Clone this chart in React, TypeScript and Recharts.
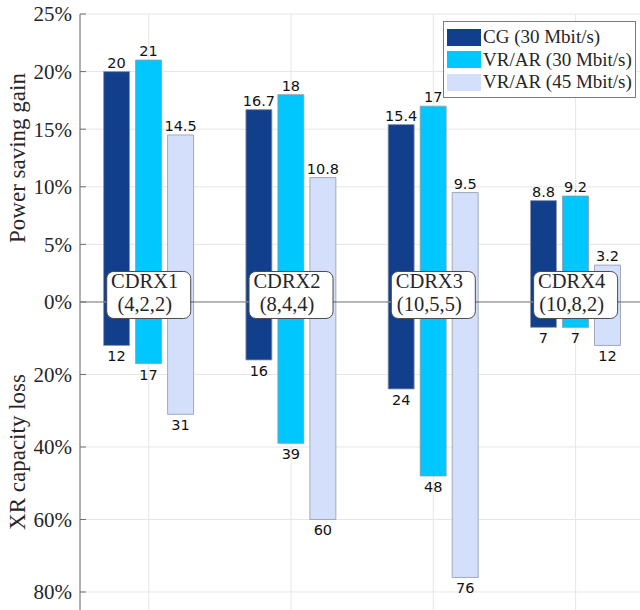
import { ComposedChart, Bar, XAxis, YAxis, CartesianGrid, ReferenceLine, ReferenceDot, LabelList, Legend } from 'recharts';

// CDRX configurations
const configs = ['CDRX1', 'CDRX2', 'CDRX3', 'CDRX4'];
const configParams = ['(4,2,2)', '(8,4,4)', '(10,5,5)', '(10,8,2)'];

// power saving gain (%)
const cgGain = [20, 16.7, 15.4, 8.8];
const vr30Gain = [21, 18, 17, 9.2];
const vr45Gain = [14.5, 10.8, 9.5, 3.2];

// XR capacity loss (%)
const cgLoss = [12, 16, 24, 7];
const vr30Loss = [17, 39, 48, 7];
const vr45Loss = [31, 60, 76, 12];

const gainTicks = [0, 5, 10, 15, 20, 25];
const lossTicks = [20, 40, 60, 80];

// the loss half of the axis is drawn on a compressed scale
const LOSS_SCALE = 0.3147;

const series = [
  { name: 'CG (30 Mbit/s)', gain: 'cgGain', loss: 'cgLoss', color: '#123f8c' },
  { name: 'VR/AR (30 Mbit/s)', gain: 'vr30Gain', loss: 'vr30Loss', color: '#00c8ff' },
  { name: 'VR/AR (45 Mbit/s)', gain: 'vr45Gain', loss: 'vr45Loss', color: '#d3dffb' },
];

const data = configs.map((name, i) => ({
  pos: i + 1,
  name,
  cgGain: cgGain[i],
  vr30Gain: vr30Gain[i],
  vr45Gain: vr45Gain[i],
  cgLoss: cgLoss[i],
  vr30Loss: vr30Loss[i],
  vr45Loss: vr45Loss[i],
  cgLossS: -cgLoss[i] * LOSS_SCALE,
  vr30LossS: -vr30Loss[i] * LOSS_SCALE,
  vr45LossS: -vr45Loss[i] * LOSS_SCALE,
}));

const yTicks = [...lossTicks.map((v) => -v * LOSS_SCALE).reverse(), ...gainTicks];
const xTicks = data.map((d) => d.pos);
const xDomain = [0.517, 4.593];

const serif = '"Liberation Serif", "Times New Roman", serif';
const sans = '"DejaVu Sans", Verdana, sans-serif';

const fmtTick = (v: number) => (v < 0 ? `${Math.round(-v / LOSS_SCALE)}%` : `${Math.round(v)}%`);

const TopLabel = (props: any) => {
  const { x, y, width, height, value } = props;
  const top = Math.min(y, y + height);
  return (
    <text x={x + width / 2} y={top - 4} textAnchor="middle" fontFamily={sans} fontSize={14.5} fill="#111">
      {value}
    </text>
  );
};

const BottomLabel = (props: any) => {
  const { x, y, width, height, value } = props;
  const bottom = Math.max(y, y + height);
  return (
    <text x={x + width / 2} y={bottom + 16} textAnchor="middle" fontFamily={sans} fontSize={14.5} fill="#111">
      {value}
    </text>
  );
};

const ConfigBox = (idx: number) => (props: any) => {
  const { cx, cy } = props;
  return (
    <g>
      <rect x={cx - 42} y={cy - 30.5} width={84} height={47} rx={7} fill="#fff" stroke="#4a4a4a" strokeWidth={1} />
      <text x={cx - 4} y={cy - 13.5} textAnchor="middle" fontFamily={serif} fontSize={20.5} fill="#262626">
        {configs[idx]}
      </text>
      <text x={cx - 4} y={cy + 9.5} textAnchor="middle" fontFamily={serif} fontSize={20.5} fill="#262626">
        {configParams[idx]}
      </text>
    </g>
  );
};

const AxisTitles = () => (
  <g fontFamily={serif} fontSize={23} fill="#262626">
    <text x={25} y={158} transform="rotate(-90 25 158)" textAnchor="middle">
      Power saving gain
    </text>
    <text x={25} y={452} transform="rotate(-90 25 452)" textAnchor="middle">
      XR capacity loss
    </text>
  </g>
);

const LegendBox = () => (
  <div
    style={{
      border: '1px solid #7a7a7a',
      background: '#fff',
      padding: '4px 4px 3px 3px',
      fontFamily: serif,
      fontSize: 19,
      color: '#262626',
      width: 184,
    }}
  >
    {series.map((s) => (
      <div key={s.name} style={{ display: 'flex', alignItems: 'center', height: 22.5 }}>
        <span style={{ width: 34, height: 17, background: s.color, marginRight: 2, flex: 'none' }} />
        <span style={{ whiteSpace: 'nowrap' }}>{s.name}</span>
      </div>
    ))}
  </div>
);

export default function App() {
  return (
    <div style={{ position: 'fixed', left: 0, top: 0, width: 640, height: 610, overflow: 'hidden', background: '#fff' }}>
      <ComposedChart
        width={660}
        height={620}
        data={data}
        margin={{ top: 14, right: 0, left: 0, bottom: 7 }}
        stackOffset="sign"
        barSize={26}
        barGap={6}
      >
        <CartesianGrid stroke="#e6e6e6" strokeWidth={1} />
        <XAxis
          dataKey="pos"
          type="number"
          domain={xDomain}
          ticks={xTicks}
          allowDataOverflow
          height={0}
          tickSize={-7}
          tickFormatter={() => ''}
          tickLine={{ stroke: '#6e6e6e' }}
          axisLine={{ stroke: '#6e6e6e' }}
        />
        <XAxis
          xAxisId="top"
          orientation="top"
          dataKey="pos"
          type="number"
          domain={xDomain}
          ticks={xTicks}
          allowDataOverflow
          height={0}
          tickSize={-7}
          tickFormatter={() => ''}
          tickLine={{ stroke: '#6e6e6e' }}
          axisLine={{ stroke: '#7a7a7a' }}
        />
        <YAxis
          width={80}
          domain={[-27, 25]}
          ticks={yTicks}
          interval={0}
          tickFormatter={fmtTick}
          tickSize={-6}
          tickMargin={14}
          tickLine={{ stroke: '#6e6e6e' }}
          axisLine={{ stroke: '#6e6e6e' }}
          tick={{ fontFamily: serif, fontSize: 21, fill: '#262626' }}
          allowDataOverflow
          label={<AxisTitles />}
        />
        <Legend
          layout="horizontal"
          verticalAlign="middle"
          align="center"
          content={<LegendBox />}
          wrapperStyle={{ top: 21, left: 443, width: 194 }}
        />
        <ReferenceLine y={0} stroke="#7a7a7a" />
        {series.map((s) => (
          <Bar
            key={s.gain}
            dataKey={s.gain}
            stackId={s.name}
            fill={s.color}
            stroke="#8f99ab"
            strokeWidth={0.8}
            isAnimationActive={false}
          >
            <LabelList dataKey={s.gain} content={<TopLabel />} />
          </Bar>
        ))}
        {series.map((s) => (
          <Bar
            key={s.loss}
            dataKey={`${s.loss}S`}
            stackId={s.name}
            fill={s.color}
            stroke="#8f99ab"
            strokeWidth={0.8}
            isAnimationActive={false}
          >
            <LabelList dataKey={s.loss} content={<BottomLabel />} />
          </Bar>
        ))}
        {data.map((d, i) => (
          <ReferenceDot key={d.name} x={d.pos} y={0} r={1} shape={ConfigBox(i)} />
        ))}
      </ComposedChart>
    </div>
  );
}
